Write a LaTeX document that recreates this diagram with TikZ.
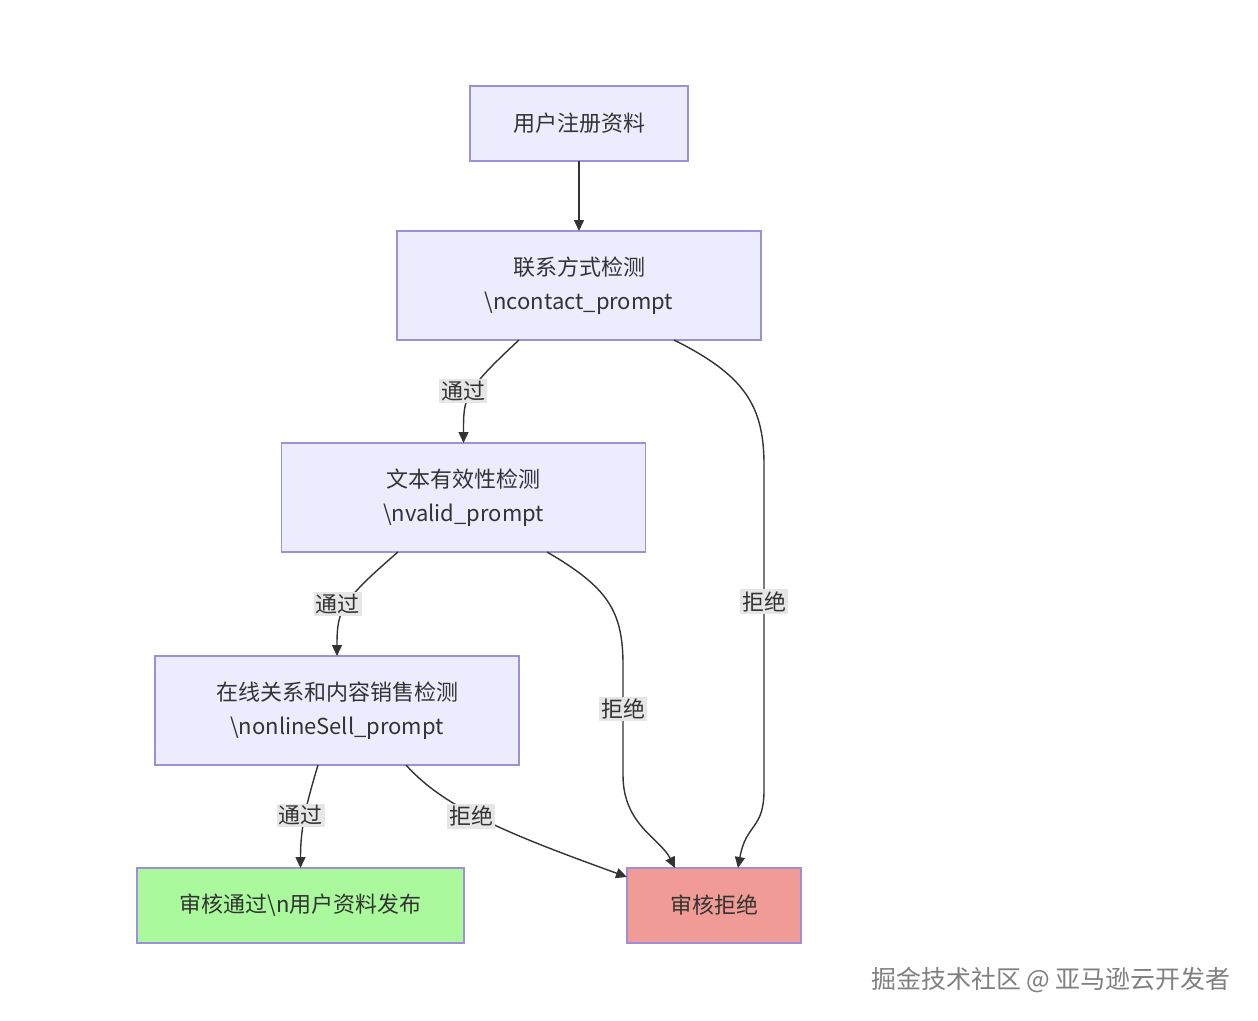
\documentclass[tikz,border=0pt]{standalone}
\usepackage{fontspec}
\setmainfont{Noto Sans CJK SC}
\usepackage{xcolor}
\usetikzlibrary{positioning, arrows.meta}
\definecolor{boxfill}{HTML}{ECECFF}
\definecolor{boxline}{HTML}{9F8FD8}
\definecolor{passfill}{HTML}{AAF99C}
\definecolor{rejectfill}{HTML}{F09B96}
\definecolor{inkgray}{HTML}{333333}
\definecolor{lblfill}{HTML}{E6E6E6}
\definecolor{markgray}{HTML}{808080}
\tikzset{
>={Triangle[length=11pt,width=10pt]}, % filled triangle heads
every node/.style={font=\fontsize{22}{34}\selectfont, text=inkgray},
check/.style={draw=boxline, fill=boxfill, line width=1.5pt, align=center, inner sep=0pt, outer sep=0pt, minimum width=364pt, minimum height=109pt},
pass/.style={check, fill=passfill, minimum width=327pt, minimum height=75pt},
reject/.style={check, fill=rejectfill, minimum width=174pt, minimum height=75pt},
flow/.style={->, draw=inkgray, line width=1.4pt},
lbl/.style={fill=lblfill, inner sep=2pt},
}

\begin{document}
\begin{tikzpicture}[x=1pt, y=1pt]
        \useasboundingbox (0,0) rectangle (1258,-1020);

        \node[check, minimum width=218pt, minimum height=75pt] (reg) at (579,-123.5) {用户注册资料};
        \node[check, below=70pt of reg] (contact) {联系方式检测\\\textbackslash ncontact\_prompt};
        \node[check, below=103pt of contact, xshift=-115.5pt] (valid) {文本有效性检测\\\textbackslash nvalid\_prompt};
        \node[check, below=104pt of valid, xshift=-126.5pt] (online) {在线关系和内容销售检测\\\textbackslash nonlineSell\_prompt};
        \node[pass, below=103pt of online, xshift=-36.5pt] (ok) {审核通过\textbackslash n用户资料发布};
        \node[reject, right=163pt of ok] (no) {审核拒绝};

        \draw[flow] (reg) -- (contact);
        \draw[flow] ([xshift=-60pt]contact.south) .. controls +(-56,-52) and +(0,45) .. (valid.north) node[lbl, pos=0.5, xshift=-7pt, yshift=3pt] {通过};
        \draw[flow] ([xshift=95pt]contact.south) .. controls +(70,-35) and +(0,60) .. (764,-465)
                    -- node[lbl, pos=0.42] {拒绝} (764,-790)
                    .. controls +(0,-40) and +(8,45) .. ([xshift=24pt]no.north);
        \draw[flow] ([xshift=83.5pt]valid.south) .. controls +(60,-35) and +(0,55) .. (623,-665)
                    -- node[lbl, pos=0.4] {拒绝} (623,-775)
                    .. controls +(0,-50) and +(-15,30) .. ([xshift=-39pt]no.north);
        \draw[flow] ([xshift=-65.5pt]valid.south) .. controls +(-58,-50) and +(0,45) .. (online.north) node[lbl, pos=0.5, xshift=-8pt, yshift=2pt] {通过};
        \draw[flow] ([xshift=-19pt]online.south) .. controls +(-12,-40) and +(0,40) .. (ok.north) node[lbl, pos=0.5, xshift=-4pt, yshift=1pt] {通过};
        \draw[flow] ([xshift=69pt]online.south) .. controls +(40,-45) and +(-110,40) .. ([yshift=-9pt]no.north west) node[lbl, pos=0.4, xshift=2pt, yshift=-4pt] {拒绝};

        \node[font=\fontsize{25}{25}\selectfont, text=markgray] (mark) at (1051,-980) {掘金技术社区 @ 亚马逊云开发者};
    \end{tikzpicture}
\end{document}
